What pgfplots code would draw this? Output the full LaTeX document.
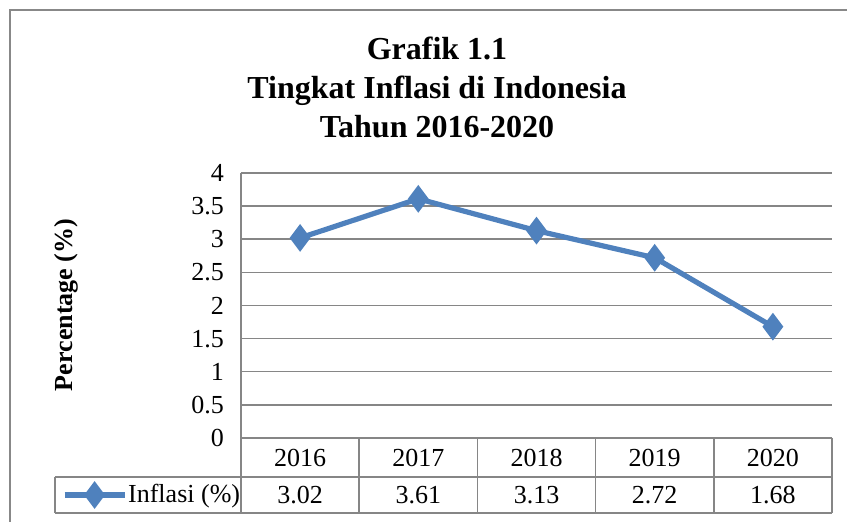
\documentclass[border=0pt]{standalone}
\usepackage{fontspec}
\setmainfont{Liberation Serif}
\usepackage{pgfplots}
\pgfplotsset{compat=1.18}
\definecolor{ser}{RGB}{79,129,189}
\definecolor{grd}{RGB}{134,134,134}
\definecolor{frm}{RGB}{136,136,136}
\begin{document}
\begin{tikzpicture}
\useasboundingbox (0,0) rectangle (423.5pt,261pt);
\begin{scope}
\clip (0,0) rectangle (423.5pt,261pt);
\draw[frm, line width=1.3pt] (5pt,-10pt) rectangle (440pt,256pt);
\end{scope}
\begin{axis}[at={(120.5pt,42pt)}, anchor=south west, scale only axis,
  width=295.5pt, height=132.5pt,
  xmin=-0.5, xmax=4.5, ymin=0, ymax=4,
  ytick={0,0.5,1,1.5,2,2.5,3,3.5,4}, xtick=\empty,
  axis x line*=bottom, axis y line*=left,
  axis line style={grd, line width=0.75pt},
  ymajorgrids, grid style={grd, line width=0.75pt},
  major tick length=0pt,
  /pgf/number format/assume math mode=true,
  tick label style={font=\fontsize{13}{15}\selectfont},
  yticklabel style={xshift=-5pt},
  clip=false,
  legend style={at={(-0.3029,-0.2151)}, anchor=west, draw=none, fill=none,
    inner sep=0pt, outer sep=0pt, font=\fontsize{13}{15}\selectfont,
    nodes={inner sep=0.5pt}},
  legend image code/.code={\draw[mark repeat=2,mark phase=2,#1] plot coordinates {(0pt,0pt)(15pt,0pt)(30pt,0pt)};},
]
\addplot[ser, line width=2.6pt, mark=diamond*, mark size=4.8pt, mark options={solid, fill=ser}]
  coordinates {(0,3.02)(1,3.61)(2,3.13)(3,2.72)(4,1.68)};
\addlegendentry{Inflasi (\%)}
\end{axis}
% data table
\begin{scope}[grd, line width=0.75pt]
\draw (120.5pt,42pt) -- (120.5pt,4.5pt);
\foreach \x in {179.6,238.7,297.8,356.9,416} \draw (\x pt,42pt) -- (\x pt,4.5pt);
\draw (27.5pt,22.5pt) -- (416pt,22.5pt);
\draw (27.5pt,4.5pt) -- (416pt,4.5pt);
\draw (27.5pt,22.5pt) -- (27.5pt,4.5pt);
\end{scope}
\begin{scope}[every node/.style={font=\fontsize{13}{15}\selectfont}]
\node at (150.05pt,32.25pt) {2016};
\node at (209.15pt,32.25pt) {2017};
\node at (268.25pt,32.25pt) {2018};
\node at (327.35pt,32.25pt) {2019};
\node at (386.45pt,32.25pt) {2020};
\node at (150.05pt,13.5pt) {3.02};
\node at (209.15pt,13.5pt) {3.61};
\node at (268.25pt,13.5pt) {3.13};
\node at (327.35pt,13.5pt) {2.72};
\node at (386.45pt,13.5pt) {1.68};
\end{scope}
\node[rotate=90, font=\bfseries\fontsize{13}{15}\selectfont] at (33pt,108.5pt) {Percentage (\%)};
\node[align=center, font=\bfseries\fontsize{16}{19.5}\selectfont] at (218.5pt,217.5pt) {Grafik 1.1\\Tingkat Inflasi di Indonesia\\Tahun 2016-2020};
\end{tikzpicture}
\end{document}
